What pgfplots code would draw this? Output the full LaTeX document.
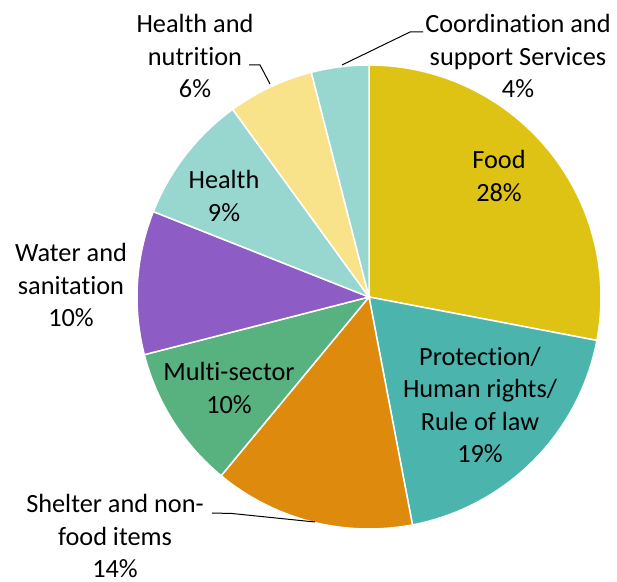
\documentclass[border=0pt]{standalone}
\usepackage{pgfplots}
\pgfplotsset{compat=1.18}
\usepackage{fontspec}
\setmainfont{Carlito}[Ligatures=NoCommon]

\definecolor{cFood}{HTML}{DEC314}
\definecolor{cProt}{HTML}{4BB4AC}
\definecolor{cShel}{HTML}{DE8A0C}
\definecolor{cMult}{HTML}{58B280}
\definecolor{cWat}{HTML}{8D5CC4}
\definecolor{cHeal}{HTML}{98D7D0}
\definecolor{cHN}{HTML}{F9E38A}
\definecolor{cCoord}{HTML}{98D7D0}

\tikzset{lbl/.style={font=\fontsize{26.4}{32.5}\selectfont, align=center, inner sep=0pt}}

% slice: start share, end share (cumulative %), colour
\newcommand\slice[3]{%
  \fill[#3, draw=white, line width=1.5bp]
    (axis cs:369,285) -- +({90-3.6*#1}:232bp)
    arc[start angle={90-3.6*#1}, end angle={90-3.6*#2}, radius=232bp] -- cycle;}

\begin{document}
\begin{tikzpicture}
\begin{axis}[
    hide axis,
    x=1bp, y=1bp,
    xmin=0, xmax=617, ymin=0, ymax=582,
    scale only axis,
    clip=false,
]
\path (axis cs:0,0) rectangle (axis cs:617,582);

% cumulative shares: 28, 19, 14, 10, 10, 9, 6, 4
\slice{0}{28}{cFood}
\slice{28}{47}{cProt}
\slice{47}{61}{cShel}
\slice{61}{71}{cMult}
\slice{71}{81}{cWat}
\slice{81}{90}{cHeal}
\slice{90}{96}{cHN}
\slice{96}{100}{cCoord}

% leader lines
\draw[line width=1bp] (axis cs:249,517) -- (axis cs:260,517) -- (axis cs:270,498);
\draw[line width=1bp] (axis cs:423,550) -- (axis cs:410,550) -- (axis cs:342,517);
\draw[line width=1bp] (axis cs:212,69) -- (axis cs:232,68.5) -- (axis cs:315,60);

% labels
\node[lbl] at (axis cs:499,406) {Food\\28\%};
\node[lbl] at (axis cs:480,177) {Protection/\\Human rights/\\Rule of law\\19\%};
\node[lbl] at (axis cs:115,46) {Shelter and non-\\food items\\14\%};
\node[lbl] at (axis cs:229,194) {Multi-sector\\10\%};
\node[lbl] at (axis cs:71,297) {Water and\\sanitation\\10\%};
\node[lbl] at (axis cs:224,386) {Health\\9\%};
\node[lbl] at (axis cs:195,526) {Health and\\nutrition\\6\%};
\node[lbl] at (axis cs:518,526) {Coordination and\\support Services\\4\%};
\end{axis}
\end{tikzpicture}
\end{document}
